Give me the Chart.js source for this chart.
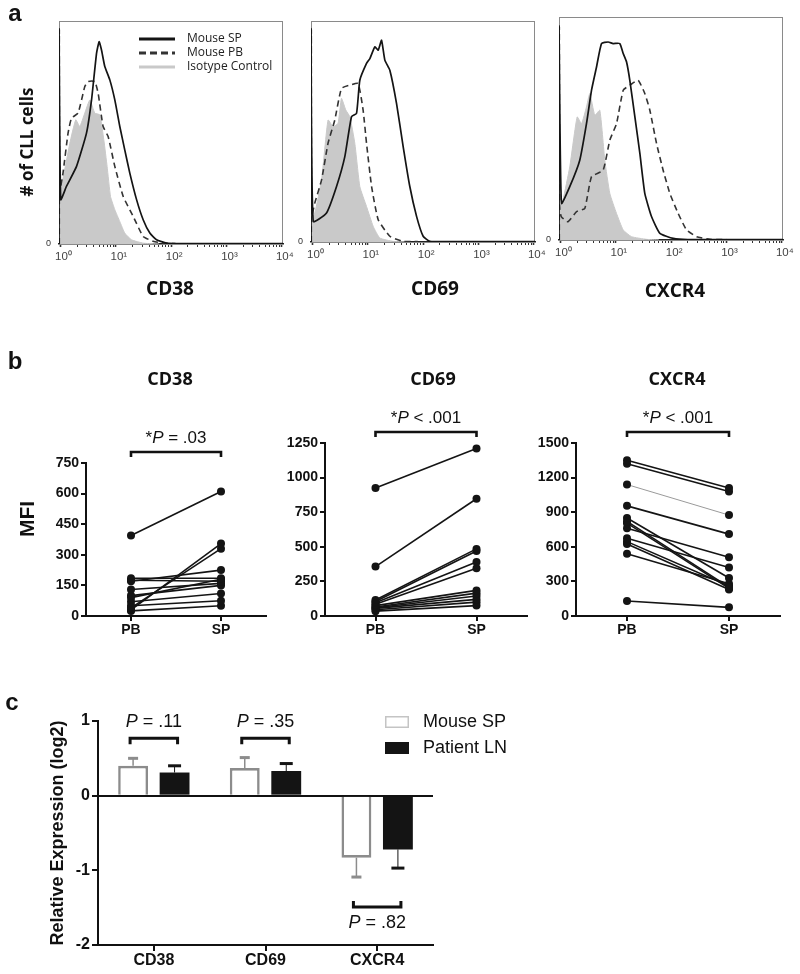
<!DOCTYPE html>
<html><head><meta charset="utf-8">
<script src="https://cdn.jsdelivr.net/npm/chart.js@4.4.1/dist/chart.umd.min.js"></script>
<style>
html,body{margin:0;padding:0;background:#fff;}
#fig{position:relative;width:800px;height:974px;overflow:hidden;background:#fff;}
canvas{position:absolute;}
</style></head>
<body><div id="fig">
<canvas id="a1" width="300" height="305" style="left:0;top:0"></canvas>
<canvas id="a2" width="260" height="305" style="left:290px;top:0"></canvas>
<canvas id="a3" width="260" height="305" style="left:540px;top:0"></canvas>
<canvas id="b1" width="275" height="310" style="left:0;top:340px"></canvas>
<canvas id="b2" width="265" height="310" style="left:275px;top:340px"></canvas>
<canvas id="b3" width="270" height="310" style="left:530px;top:340px"></canvas>
<canvas id="c1" width="560" height="294" style="left:0;top:680px"></canvas>
</div>
<script>
// ================= DATA =================
const markers = ['CD38', 'CD69', 'CXCR4'];

// ---- panel a: flow histograms ([fluorescence, % of max]) ----
const histSeriesNames = ['Mouse SP', 'Mouse PB', 'Isotype Control'];
const histMajorTicks = [1, 10, 100, 1000, 10000];
const histTickLabels = ['10\u2070', '10\u00b9', '10\u00b2', '10\u00b3', '10\u2074'];
const histXMin = 0.94, histXMax = 10500;

const hCD38SP = [[0.94,0],[0.94,96.5],[1.01,19.9],[1.28,25.8],[1.95,34.8],[2.95,49.7],[3.64,64.6],[4.48,85.5],[4.99,90.7],[5.51,87],[6.32,79.6],[7.79,73.6],[9.59,64.6],[11.8,52.7],[14.5,42.2],[17.9,31.8],[23.7,19.9],[31.2,10.9],[41.2,4.9],[54.4,1.9],[82.6,0.4],[150,0.2],[10500,0.2]];
const hCD38PB = [[0.952,0],[0.952,96],[0.97,24],[1.11,31.8],[1.37,49.7],[1.58,56.4],[2.08,58.7],[2.75,70.6],[3.16,72.8],[4.17,72.8],[4.79,67.6],[5.89,52.7],[7.26,48.2],[9.59,34.8],[13.6,21.3],[20.6,12.4],[31.2,3.4],[47.3,1.2],[71.6,0.4],[120,0.2]];
const hCD38Iso = [[0.94,22],[1.04,25.8],[1.47,45],[1.89,55.7],[2.23,52.7],[2.75,58.7],[3.39,64.6],[4.17,58.7],[5.14,57.9],[6.07,46.7],[6.96,34.8],[8.02,21.3],[9.59,15.4],[11.8,10.1],[14.5,4.9],[19.2,1.9],[31.2,0.4],[60,0]];

const hCD69SP = [[0.94,0],[0.94,96.5],[1.03,9.3],[1.79,13.1],[2.72,25.1],[3.84,38.6],[5.07,56.7],[6.25,58.2],[7.17,73.2],[9.47,80.8],[10.9,83],[13.4,88.3],[15.4,86.8],[17.7,91.3],[20.3,82.3],[25,77.7],[33,62.7],[43.5,43.2],[57.4,25.1],[76,11.6],[100,2.6],[132,0.3],[200,0.2],[10500,0.2]];
const hCD69PB = [[0.952,0],[0.952,96],[0.97,12],[1.1,17.6],[1.46,28.1],[1.91,44.7],[2.53,55.2],[3.34,69.5],[4.73,71],[6.68,71.7],[8.22,59.7],[9.47,44.7],[11.7,25.1],[15.4,10.1],[25,2.6],[43.5,0.3],[80,0.2]];
const hCD69Iso = [[0.94,10],[1.1,13.1],[1.46,28.1],[1.91,55.2],[2.36,52.2],[2.9,53.7],[3.34,65],[4,59.7],[4.73,56.7],[5.82,44.7],[7.17,25.1],[9.47,16.1],[12.5,7.1],[16.5,1.8],[28.7,0.3],[50,0]];

const hCXCR4SP = [[0.94,0],[0.94,96],[1.04,16.4],[1.47,23.9],[2.23,35.8],[2.95,52.2],[3.64,67.2],[4.48,77.6],[5.51,88.1],[7.26,88.8],[8.93,88.1],[11.8,88.1],[13.6,83.6],[15.6,79.9],[17.9,71.6],[22.1,55.2],[27.2,38.8],[33.4,20.9],[44.3,10.4],[62.5,3],[109,0.7],[200,0.2],[10500,0.2]];
const hCXCR4PB = [[0.952,0],[0.952,95.5],[0.97,14],[1.04,10.4],[1.37,8.2],[1.95,12.7],[2.75,14.2],[3.64,28.4],[5.89,31.3],[7.79,44.8],[10.3,52.2],[13.6,67.2],[17.9,69.4],[25.3,71.6],[33.4,65.7],[41.2,58.2],[54.4,43.3],[71.6,31.3],[94.7,20.9],[134,11.9],[190,4.5],[288,1.5],[501,0.3],[1000,0.2]];
const hCXCR4Iso = [[0.94,12],[1.11,17.9],[1.47,32.8],[2,55.2],[2.4,52.2],[2.95,59.7],[3.39,65.7],[4.17,56],[5.14,58.2],[6.32,35.8],[7.79,20.9],[10.3,11.9],[13.6,4.5],[19.2,1.5],[35.9,0.3],[60,0]];

// ---- panel b: paired MFI (PB -> SP) ----
const pairLabels = ['PB', 'SP'];
const mfiCD38PB = [395, 30, 40, 185, 175, 170, 130, 100, 90, 70, 50, 25];
const mfiCD38SP = [610, 355, 330, 185, 170, 225, 160, 150, 180, 110, 75, 50];
const mfiCD69PB = [924, 357, 115, 105, 95, 85, 75, 65, 60, 55, 45, 35];
const mfiCD69SP = [1210, 847, 485, 470, 390, 345, 185, 165, 145, 120, 100, 75];
const mfiCXCR4PB = [1350, 1320, 1140, 955, 850, 820, 805, 760, 675, 645, 625, 540, 130];
const mfiCXCR4SP = [1110, 1080, 875, 710, 330, 250, 240, 510, 420, 260, 230, 280, 75];
const bPValues = ['*P = .03', '*P < .001', '*P < .001'];

// ---- panel c: relative expression (log2) ----
const cSeriesNames = ['Mouse SP', 'Patient LN'];
const mouseSP = [0.40, 0.37, -0.83];
const mouseSPErr = [0.10, 0.14, 0.26];
const patientLN = [0.31, 0.33, -0.72];
const patientLNErr = [0.09, 0.10, 0.25];
const cPValues = ['P = .11', 'P = .35', 'P = .82'];

// ================= HELPERS / PLUGINS =================
Chart.defaults.animation = false;
Chart.defaults.font.family = "'Liberation Sans', Arial, sans-serif";
Chart.defaults.color = '#111';

const ARIAL = "'Liberation Sans', Arial, sans-serif";
const OPEN = "'Open Sans', 'Liberation Sans', sans-serif";

function toXY(arr) { return arr.map(p => ({x: p[0], y: p[1]})); }
function richParts(s) { return s.split(/(P)/).filter(t => t.length).map(t => [t, t === 'P']); }

function drawRich(ctx, parts, cx, cy, size, family, weight, color) {
  const fontOf = it => (it ? 'italic ' : '') + (weight || 'normal') + ' ' + size + 'px ' + family;
  let total = 0;
  parts.forEach(p => { ctx.font = fontOf(p[1]); total += ctx.measureText(p[0]).width; });
  let x = cx - total / 2;
  ctx.fillStyle = color || '#111';
  ctx.textBaseline = 'middle';
  ctx.textAlign = 'left';
  parts.forEach(p => { ctx.font = fontOf(p[1]); ctx.fillText(p[0], x, cy); x += ctx.measureText(p[0]).width; });
}

const textsPlugin = {
  id: 'texts',
  afterDraw(chart, args, o) {
    const ctx = chart.ctx;
    (o.items || []).forEach(it => {
      ctx.save();
      ctx.translate(it.x, it.y);
      if (it.rotate) ctx.rotate(it.rotate * Math.PI / 180);
      drawRich(ctx, it.parts || [[it.text, false]], 0, 0, it.size, it.family, it.weight, it.color);
      ctx.restore();
    });
  }
};

const framePlugin = {
  id: 'frame',
  beforeDatasetsDraw(chart, args, o) {
    if (!o.color) return;
    const a = chart.chartArea, ctx = chart.ctx;
    ctx.save();
    ctx.strokeStyle = o.color;
    ctx.lineWidth = 1;
    ctx.strokeRect(a.left + 0.5, a.top + 0.5, a.right - a.left - 1, a.bottom - a.top);
    ctx.restore();
  }
};

const lineLegendPlugin = {
  id: 'lineLegend',
  afterDraw(chart, args, o) {
    if (!o.show) return;
    const ctx = chart.ctx, a = chart.chartArea;
    chart.data.datasets.forEach((ds, i) => {
      const y = a.top + o.dy + i * o.row, x = a.left + o.dx;
      ctx.save();
      ctx.strokeStyle = ds.legendColor || ds.borderColor;
      ctx.lineWidth = o.lw;
      ctx.setLineDash(ds.legendDash || []);
      ctx.beginPath(); ctx.moveTo(x, y); ctx.lineTo(x + o.len, y); ctx.stroke();
      ctx.setLineDash([]);
      ctx.fillStyle = '#222';
      ctx.font = o.size + 'px ' + OPEN;
      ctx.textBaseline = 'middle';
      ctx.textAlign = 'left';
      ctx.fillText(ds.label, x + o.len + o.gap, y);
      ctx.restore();
    });
  }
};

const boxLegendPlugin = {
  id: 'boxLegend',
  afterDraw(chart, args, o) {
    if (!o.show) return;
    const ctx = chart.ctx;
    chart.data.datasets.forEach((ds, i) => {
      const y = o.y + i * o.row;
      ctx.save();
      ctx.fillStyle = ds.backgroundColor;
      ctx.fillRect(o.x, y - o.h / 2, o.w, o.h);
      if (ds.legendBorder) {
        ctx.strokeStyle = ds.legendBorder; ctx.lineWidth = 1.5;
        ctx.strokeRect(o.x + 0.75, y - o.h / 2 + 0.75, o.w - 1.5, o.h - 1.5);
      }
      ctx.fillStyle = '#111';
      ctx.font = o.size + 'px ' + ARIAL;
      ctx.textBaseline = 'middle'; ctx.textAlign = 'left';
      ctx.fillText(ds.label, o.textX, y);
      ctx.restore();
    });
  }
};

const errorBarPlugin = {
  id: 'errorBars',
  afterDatasetsDraw(chart) {
    const ys = chart.scales.y, ctx = chart.ctx;
    chart.data.datasets.forEach((ds, i) => {
      if (!ds.errors) return;
      chart.getDatasetMeta(i).data.forEach((el, j) => {
        const v = ds.data[j], e = ds.errors[j];
        const end = ys.getPixelForValue(v >= 0 ? v + e : v - e);
        ctx.save();
        ctx.strokeStyle = ds.errColor; ctx.lineWidth = ds.errStem;
        ctx.beginPath(); ctx.moveTo(el.x, el.y); ctx.lineTo(el.x, end); ctx.stroke();
        ctx.fillStyle = ds.errColor;
        ctx.fillRect(el.x - ds.errCapW / 2, end - ds.errCapT / 2, ds.errCapW, ds.errCapT);
        ctx.restore();
      });
    });
  }
};

const pvalPlugin = {
  id: 'pvals',
  afterDraw(chart, args, o) {
    if (!o.items) return;
    const ctx = chart.ctx, xs = chart.scales.x, ys = chart.scales.y, a = chart.chartArea;
    o.items.forEach(it => {
      let x1, x2;
      if (it.cat !== undefined) {
        x1 = chart.getDatasetMeta(0).data[it.cat].x - o.ext;
        x2 = chart.getDatasetMeta(1).data[it.cat].x + o.ext;
      } else {
        x1 = xs.getPixelForValue(it.from) - o.ext;
        x2 = xs.getPixelForValue(it.to) + o.ext;
      }
      const yb = it.val !== undefined ? ys.getPixelForValue(it.val) : a.top + it.dy;
      const yt = it.textVal !== undefined ? ys.getPixelForValue(it.textVal) : a.top + it.textDy;
      ctx.save();
      ctx.strokeStyle = '#111'; ctx.lineWidth = o.lw; ctx.lineJoin = 'miter'; ctx.lineCap = 'butt';
      ctx.beginPath();
      ctx.moveTo(x1, yb + it.hook); ctx.lineTo(x1, yb); ctx.lineTo(x2, yb); ctx.lineTo(x2, yb + it.hook);
      ctx.stroke();
      ctx.restore();
      drawRich(ctx, richParts(it.text), (x1 + x2) / 2, yt, o.size, ARIAL, 'normal', '#111');
    });
  }
};

// ================= PANEL a =================
const histTicks = [];
[1, 10, 100, 1000].forEach(d => { for (let k = 1; k <= 9; k++) histTicks.push(k * d); });
histTicks.push(10000);

function mkHist(id, ser, geo, items, legend) {
  return new Chart(document.getElementById(id), {
    type: 'line',
    data: { datasets: [
      { label: histSeriesNames[0], data: toXY(ser[0]), borderColor: '#141414', borderWidth: 1.7, tension: 0.15, pointRadius: 0, fill: false },
      { label: histSeriesNames[1], data: toXY(ser[1]), borderColor: '#333', borderWidth: 1.6, borderDash: [6, 4], legendDash: [7, 4], tension: 0.15, pointRadius: 0, fill: false },
      { label: histSeriesNames[2], data: toXY(ser[2]), borderColor: '#c9c9c9', borderWidth: 1, backgroundColor: '#c9c9c9', tension: 0.15, pointRadius: 0, fill: 'origin' }
    ]},
    options: {
      responsive: false, animation: false, events: [],
      layout: { padding: { top: geo.top, right: geo.right, left: 0, bottom: 0 } },
      scales: {
        x: {
          type: 'logarithmic', min: histXMin, max: histXMax,
          afterBuildTicks: s => { s.ticks = histTicks.map(v => ({ value: v })); },
          ticks: { autoSkip: false, maxRotation: 0, font: { size: 11.5 }, color: '#444', padding: 3, labelOffset: 3,
            callback: v => { const i = histMajorTicks.indexOf(v); return i < 0 ? '' : histTickLabels[i]; } },
          grid: { display: true, drawOnChartArea: false, drawTicks: true, tickLength: 3, color: '#333',
            tickWidth: c => (c.tick && histMajorTicks.indexOf(c.tick.value) >= 0) ? 1.6 : 1 },
          border: { display: true, color: '#222', width: 1.5 },
          afterFit: s => { s.height = geo.xh; }
        },
        y: {
          type: 'linear', min: 0, max: 100,
          afterBuildTicks: s => { s.ticks = [{ value: 0 }]; },
          ticks: { font: { size: 9 }, color: '#333', padding: 8, callback: v => String(v) },
          grid: { display: false, drawTicks: false }, border: { display: false },
          afterFit: s => { s.width = geo.yw; }
        }
      },
      plugins: {
        legend: { display: false }, tooltip: { enabled: false },
        frame: { color: '#8a8a8a' },
        lineLegend: legend || {},
        texts: { items: items }
      }
    },
    plugins: [framePlugin, lineLegendPlugin, textsPlugin]
  });
}

mkHist('a1', [hCD38SP, hCD38PB, hCD38Iso], { top: 21, right: 17, yw: 59, xh: 61 }, [
  { text: 'a', x: 15, y: 14, size: 24, weight: 'bold', family: ARIAL },
  { text: '# of CLL cells', x: 28, y: 142, rotate: -90, size: 17, weight: 'bold', family: OPEN },
  { text: markers[0], x: 170, y: 290, size: 19, weight: 'bold', family: OPEN }
], { show: true, dx: 80, dy: 18, row: 14, len: 36, gap: 12, lw: 3, size: 12 });

mkHist('a2', [hCD69SP, hCD69PB, hCD69Iso], { top: 21, right: 15, yw: 21, xh: 63 }, [
  { text: markers[1], x: 145, y: 290, size: 19, weight: 'bold', family: OPEN }
]);

mkHist('a3', [hCXCR4SP, hCXCR4PB, hCXCR4Iso], { top: 17, right: 17, yw: 19, xh: 65 }, [
  { text: markers[2], x: 135, y: 292, size: 19, weight: 'bold', family: OPEN }
]);

// ================= PANEL b =================
function mkPair(id, pb, sp, yMax, yStep, geo, items, pText, thin) {
  const datasets = pb.map((v, i) => ({
    data: [v, sp[i]],
    borderColor: thin.includes(i) ? '#9a9a9a' : '#141414',
    borderWidth: thin.includes(i) ? 1 : 1.6,
    pointRadius: 4, pointBackgroundColor: '#141414', pointBorderColor: '#141414', pointBorderWidth: 0,
    tension: 0, clip: false
  }));
  return new Chart(document.getElementById(id), {
    type: 'line',
    data: { labels: pairLabels, datasets: datasets },
    options: {
      responsive: false, animation: false, events: [],
      layout: { padding: { top: geo.top, right: geo.right, left: 0, bottom: 0 } },
      scales: {
        x: {
          type: 'category', offset: true,
          ticks: { font: { size: 14, weight: 'bold' }, color: '#111', padding: 1 },
          grid: { display: true, offset: false, drawOnChartArea: false, drawTicks: true, tickLength: 5, color: '#111', lineWidth: 2 },
          border: { display: true, color: '#111', width: 2 },
          afterFit: s => { s.height = geo.xh; }
        },
        y: {
          min: 0, max: yMax,
          ticks: { stepSize: yStep, font: { size: 14, weight: 'bold' }, color: '#111', padding: 2, callback: v => String(v) },
          grid: { display: true, drawOnChartArea: false, drawTicks: true, tickLength: 5, color: '#111', lineWidth: 2 },
          border: { display: true, color: '#111', width: 2 },
          afterFit: s => { s.width = geo.yw; }
        }
      },
      plugins: {
        legend: { display: false }, tooltip: { enabled: false },
        texts: { items: items },
        pvals: { lw: 2.6, size: 17, ext: 0, items: [{ from: 0, to: 1, dy: -11, textDy: -25, hook: 5, text: pText }] }
      }
    },
    plugins: [textsPlugin, pvalPlugin]
  });
}

mkPair('b1', mfiCD38PB, mfiCD38SP, 750, 150, { top: 123, right: 9, yw: 86, xh: 34 }, [
  { text: 'b', x: 15, y: 22, size: 24, weight: 'bold', family: ARIAL },
  { text: markers[0], x: 170, y: 40, size: 18, weight: 'bold', family: OPEN },
  { text: 'MFI', x: 28, y: 179, rotate: -90, size: 21, weight: 'bold', family: ARIAL }
], bPValues[0], []);

mkPair('b2', mfiCD69PB, mfiCD69SP, 1250, 250, { top: 103, right: 13, yw: 50, xh: 34 }, [
  { text: markers[1], x: 158, y: 40, size: 18, weight: 'bold', family: OPEN }
], bPValues[1], []);

mkPair('b3', mfiCXCR4PB, mfiCXCR4SP, 1500, 300, { top: 103, right: 20, yw: 46, xh: 34 }, [
  { text: markers[2], x: 147, y: 40, size: 18, weight: 'bold', family: OPEN }
], bPValues[2], [2]);

// ================= PANEL c =================
new Chart(document.getElementById('c1'), {
  type: 'bar',
  data: {
    labels: markers,
    datasets: [
      { label: cSeriesNames[0], data: mouseSP, errors: mouseSPErr, backgroundColor: '#ffffff', borderColor: '#8c8c8c', borderWidth: 2.6, borderSkipped: 'start', legendBorder: '#c4c4c4', errColor: '#8c8c8c', errStem: 1.5, errCapW: 10, errCapT: 3 },
      { label: cSeriesNames[1], data: patientLN, errors: patientLNErr, backgroundColor: '#141414', borderColor: '#141414', borderWidth: 0, errColor: '#141414', errStem: 1, errCapW: 13, errCapT: 3 }
    ]
  },
  options: {
    responsive: false, animation: false, events: [],
    categoryPercentage: 0.743, barPercentage: 0.72,
    layout: { padding: { top: 41, right: 127, left: 0, bottom: 0 } },
    scales: {
      x: {
        type: 'category', offset: true,
        ticks: { font: { size: 16, weight: 'bold' }, color: '#111', padding: 0 },
        grid: { display: true, offset: false, drawOnChartArea: false, drawTicks: true, tickLength: 6, color: '#111', lineWidth: 2 },
        border: { display: true, color: '#111', width: 2 },
        afterFit: s => { s.height = 29; }
      },
      y: {
        min: -2, max: 1, z: 1,
        ticks: { stepSize: 1, font: { size: 16, weight: 'bold' }, color: '#111', padding: 2, callback: v => String(v) },
        grid: { display: true, drawOnChartArea: true, drawTicks: true, tickLength: 6, lineWidth: 2,
          color: c => (c.tick && c.tick.value === 0) ? '#111' : 'rgba(0,0,0,0)', tickColor: '#111' },
        border: { display: true, color: '#111', width: 2 },
        afterFit: s => { s.width = 98; }
      }
    },
    plugins: {
      legend: { display: false }, tooltip: { enabled: false },
      boxLegend: { show: true, x: 385, y: 42, row: 26, w: 24, h: 12, textX: 423, size: 18 },
      pvals: { lw: 3, size: 18, ext: 3, items: [
        { cat: 0, val: 0.77, textVal: 0.98, hook: 6, text: cPValues[0] },
        { cat: 1, val: 0.77, textVal: 0.98, hook: 6, text: cPValues[1] },
        { cat: 2, val: -1.49, textVal: -1.70, hook: -6, text: cPValues[2] }
      ] },
      texts: { items: [
        { text: 'c', x: 12, y: 23, size: 24, weight: 'bold', family: ARIAL },
        { text: 'Relative Expression (log2)', x: 58, y: 153, rotate: -90, size: 18, weight: 'bold', family: ARIAL }
      ] }
    }
  },
  plugins: [errorBarPlugin, boxLegendPlugin, pvalPlugin, textsPlugin]
});
</script>
</body></html>
